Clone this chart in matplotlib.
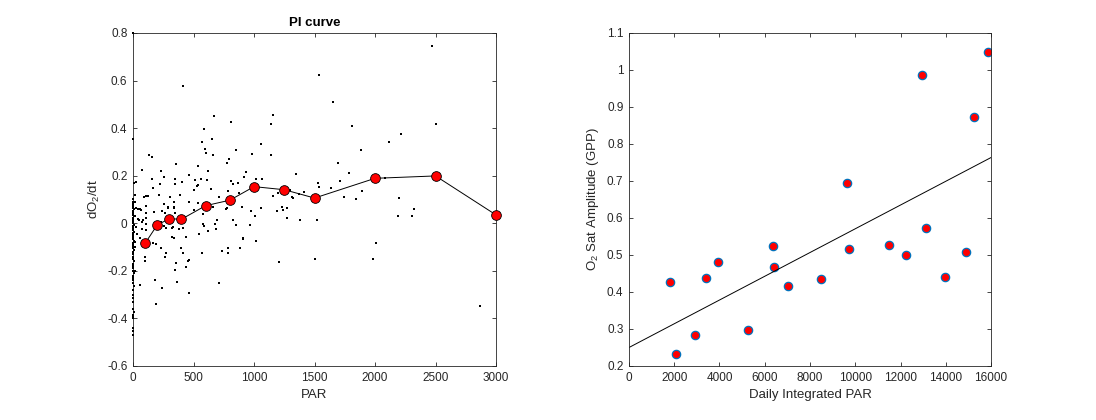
import numpy as np
import matplotlib
matplotlib.use('Agg')
import matplotlib.pyplot as plt
from matplotlib.ticker import FuncFormatter

plt.rcParams['font.family'] = ['Liberation Sans', 'DejaVu Sans']
plt.rcParams['mathtext.fontset'] = 'custom'
plt.rcParams['mathtext.rm'] = 'Liberation Sans'
plt.rcParams['mathtext.it'] = 'Liberation Sans:italic'

# raw PI points (PAR, dO2/dt)
par = [0, 0, 6, 0, 2, 0, 3, 0, 4, 0, 2, 0, 5, 0, 3, 0, 0, 4, 0, 2,
       0, 5, 0, 3, 0, 0, 4, 0, 2, 0, 0, 5, 0, 3, 0, 0, 4, 0, 2, 0,
       0, 5, 0, 3, 0, 0, 4, 0, 0, 3, 0, 0, 4, 0, 2, 0, 0, 0, 3,
       28, 28, 55, 105, 41, 69, 105, 50, 78, 111, 105, 28, 70, 105, 33, 55, 97, 97, 55, 78,
       89, 105, 122, 133, 155, 83, 41, 15, 12, 18, 14, 20, 12,
       160, 166, 171, 166, 193, 180, 188, 216, 221, 229, 235, 235, 240, 243, 254, 254, 257, 262, 262, 271,
       276, 287, 290, 304, 318, 326, 331, 337, 337, 337, 340, 343, 345, 348, 348, 351, 356, 364, 381, 387,
       395, 403, 414, 414, 414, 422, 434, 436, 455, 461, 461, 464, 464, 500, 502, 513, 530, 536, 538, 538,
       546, 561, 566, 571, 574, 582, 585, 588, 594, 604, 613, 618, 621, 646, 654, 657, 660, 668, 674, 682,
       695, 712, 712, 732, 770, 773, 773, 778, 781, 787, 787, 790, 806, 811, 828, 828, 853, 853, 869, 878,
       881, 897, 900, 911, 919, 930, 966, 974, 983, 908,
       1010, 1016, 1016, 1057, 1060, 1068, 1137, 1137, 1159, 1159, 1192, 1200, 1209, 1233, 1242, 1270, 1275, 1297, 1311, 1325,
       1347, 1372, 1383, 1413, 1504, 1521, 1531, 1537, 1540, 1637, 1650, 1697, 1711, 1747, 1783, 1813, 1841, 1888, 1893, 1979,
       2004, 2081, 2117, 2191, 2197, 2211, 2307, 2326, 2470, 2506, 2865]
do2 = [0.80, 0.353, 0.168, 0.10, 0.09, 0.08, 0.072, 0.065, 0.058, 0.05, 0.044, 0.036, 0.03, 0.022, 0.015, 0.008, 0.0, -0.006, -0.012, -0.02,
       -0.028, -0.035, -0.042, -0.05, -0.058, -0.066, -0.074, -0.082, -0.09, -0.098, -0.106, -0.114, -0.122, -0.13, -0.14, -0.15, -0.16, -0.17, -0.18, -0.19,
       -0.20, -0.21, -0.22, -0.23, -0.24, -0.25, -0.265, -0.28, -0.30, -0.315, -0.33, -0.36, -0.375, -0.385, -0.39, -0.40, -0.44, -0.455, -0.47,
       0.174, 0.063, 0.059, 0.073, 0.060, 0.056, 0.042, 0.014, 0.004, 0.021, -0.003, -0.014, -0.024, -0.028, -0.046, -0.063, -0.140, -0.158, -0.259, 0.224,
       0.112, 0.115, 0.115, 0.288, 0.280, 0.013, 0.017, 0.12, 0.09, 0.03, -0.08, -0.10, -0.20,
       0.185, 0.148, 0.046, -0.082, -0.088, -0.240, -0.339, 0.118, 0.165, 0.220, 0.004, -0.105, -0.273, 0.052, 0.196, 0.081, -0.011, 0.042, -0.143, -0.124,
       -0.021, 0.063, 0.067, 0.109, -0.058, -0.020, -0.016, 0.066, 0.091, -0.063, 0.068, 0.043, -0.196, 0.185, 0.165, -0.168, 0.249, -0.245, -0.024, 0.118,
       -0.105, 0.174, 0.577, -0.021, -0.126, 0.018, -0.058, -0.185, -0.159, 0.088, -0.292, 0.203, -0.154, 0.140, 0.056, 0.182, 0.157, 0.162, 0.241, 0.087,
       -0.045, 0.185, -0.126, 0.343, -0.004, 0.037, 0.398, -0.013, 0.311, 0.297, 0.182, 0.220, -0.032, 0.143, 0.353, 0.070, 0.287, 0.451, -0.003, -0.025,
       0.015, 0.109, -0.252, -0.116, 0.059, 0.098, 0.063, 0.255, -0.105, 0.136, -0.124, 0.269, 0.427, 0.179, 0.165, 0.014, 0.308, -0.007, 0.171, 0.126,
       -0.105, 0.069, 0.067, -0.063, 0.193, 0.217, -0.007, 0.052, 0.291, -0.065,
       0.029, 0.187, -0.076, 0.064, 0.332, 0.185, 0.419, 0.285, 0.454, 0.115, 0.052, 0.126, -0.164, 0.068, 0.056, 0.024, 0.063, 0.140, 0.109, 0.107,
       0.206, 0.122, 0.015, 0.133, -0.149, 0.013, 0.169, 0.625, 0.151, 0.147, 0.509, 0.252, 0.177, 0.112, 0.210, 0.408, 0.102, 0.307, 0.137, -0.151,
       -0.083, 0.191, 0.341, 0.031, 0.108, 0.375, 0.031, 0.059, 0.747, 0.416, -0.346]

# binned means
bin_par = [100, 200, 300, 400, 600, 800, 1000, 1250, 1500, 2000, 2500, 3000]
bin_mean = [-0.084, -0.007, 0.019, 0.017, 0.074, 0.097, 0.154, 0.141, 0.106, 0.189, 0.199, 0.035]

# daily integrated PAR vs O2 sat amplitude
daily_par = [1829, 2094, 2920, 3422, 3938, 5265, 6386, 6416, 7006, 8496,
             9631, 9705, 11490, 12257, 12950, 13127, 13968, 14897, 15251, 15855]
gpp = [0.427, 0.233, 0.285, 0.438, 0.482, 0.297, 0.523, 0.467, 0.417, 0.436,
       0.695, 0.517, 0.527, 0.501, 0.987, 0.572, 0.441, 0.507, 0.874, 1.049]

axcol = '#262626'
fmt = FuncFormatter(lambda v, p: ('%g' % round(v, 6)))


def matlab_axes(ax):
    for s in ax.spines.values():
        s.set_color(axcol)
        s.set_linewidth(0.6)
    ax.tick_params(direction='in', length=3, width=0.6, colors=axcol,
                   labelsize=8.5, top=True, right=True, pad=4)
    ax.xaxis.set_major_formatter(fmt)
    ax.yaxis.set_major_formatter(fmt)


fig = plt.figure(figsize=(10.96, 4.2), dpi=100)

ax1 = fig.add_axes([0.1214, 0.1286, 0.3312, 0.7929])
ax1.plot(par, do2, 's', color='k', ms=2.1, mew=0, clip_on=False, zorder=3)
ax1.plot(bin_par, bin_mean, '-', color='k', lw=0.7, zorder=4)
ax1.plot(bin_par, bin_mean, 'o', mfc='#ff0000', mec='k', ms=7, mew=0.6, clip_on=False, zorder=5)
ax1.set_xlim(0, 3000)
ax1.set_ylim(-0.6, 0.8)
ax1.set_xticks(np.arange(0, 3001, 500))
ax1.set_yticks(np.arange(-0.6, 0.81, 0.2))
matlab_axes(ax1)
ax1.set_xlabel('PAR', fontsize=9.5, color=axcol)
ax1.set_ylabel(r'dO$_\mathrm{2}$/dt', fontsize=9.5, color=axcol)
ax1.set_title('PI curve', fontsize=9.5, fontweight='bold', color='k', pad=5)

ax2 = fig.add_axes([0.5739, 0.1286, 0.3303, 0.7929])
ax2.plot(daily_par, gpp, 'o', mfc='#ff0000', mec=(0, 0.447, 0.741), ms=6, mew=0.9)
k, b = np.polyfit(daily_par, gpp, 1)
xl = np.array([0, 16000])
ax2.plot(xl, k * xl + b, '-', color='k', lw=0.7)
ax2.set_xlim(0, 16000)
ax2.set_ylim(0.2, 1.1)
ax2.set_xticks(np.arange(0, 16001, 2000))
ax2.set_yticks(np.arange(0.2, 1.11, 0.1))
matlab_axes(ax2)
ax2.set_xlabel('Daily Integrated PAR', fontsize=9.5, color=axcol)
ax2.set_ylabel(r'O$_\mathrm{2}$ Sat Amplitude (GPP)', fontsize=9.5, color=axcol)

fig.savefig('out.png', dpi=100)
